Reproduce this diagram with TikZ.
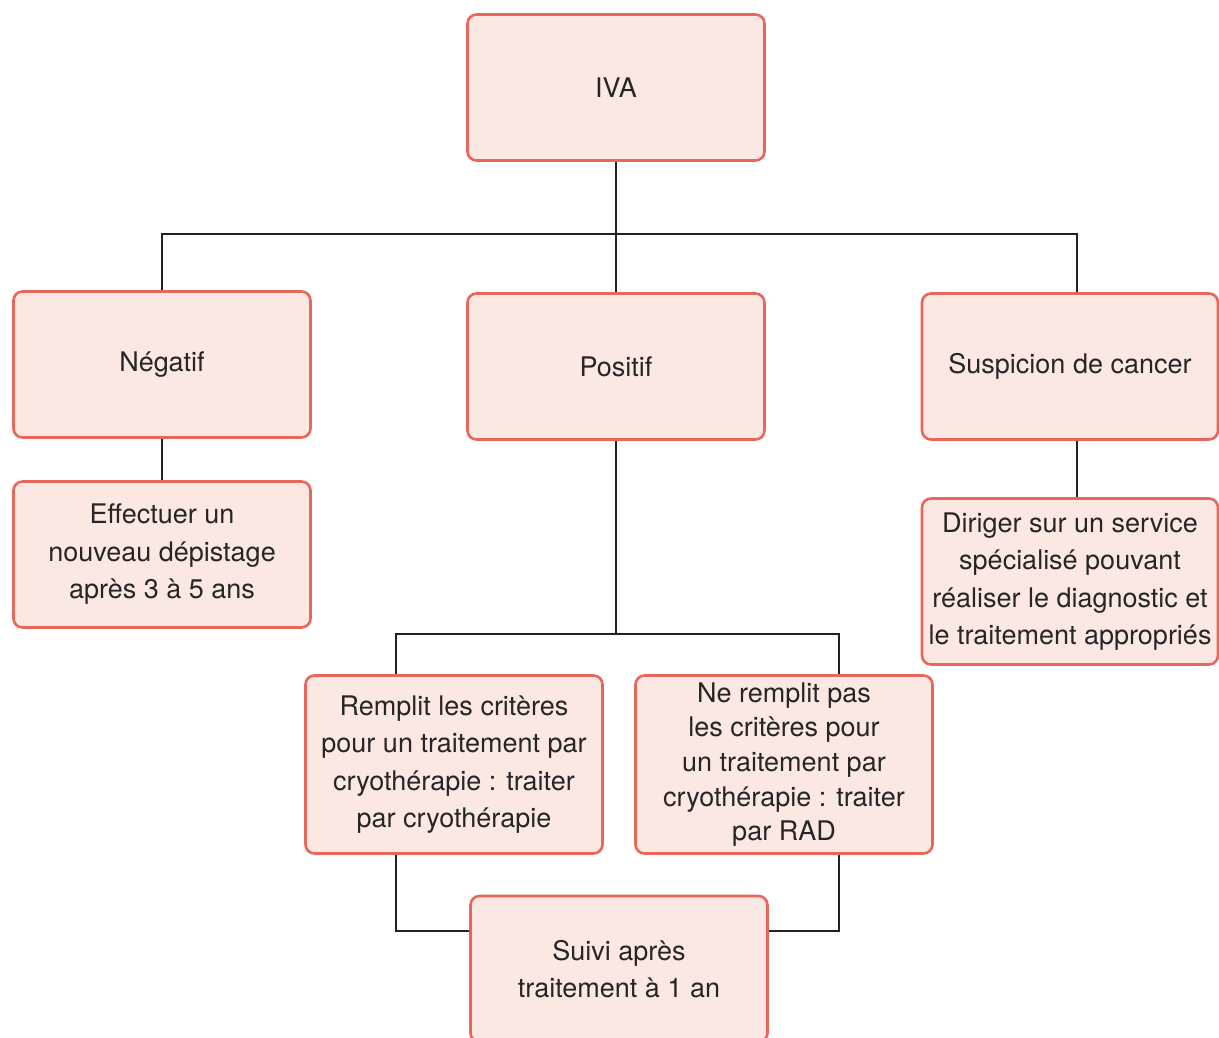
\documentclass[tikz,border=0pt]{standalone}
\usepackage{fontspec}
\setmainfont{TeX Gyre Heros}
\usepackage{xcolor}
\usepackage{tikz}

\definecolor{boxfill}{HTML}{FCE8E2}
\definecolor{boxline}{HTML}{E8665A}
\definecolor{wire}{HTML}{222222}
\definecolor{ink}{HTML}{262626}

\begin{document}
\begin{tikzpicture}[x=1pt, y=-1pt,
  box/.style={draw=boxline, fill=boxfill, line width=2.6pt, rounded corners=9pt,
    minimum width=297pt, minimum height=146pt, inner sep=0pt, align=center,
    text=ink, font=\fontsize{27}{37.5}\selectfont},
  link/.style={draw=wire, line width=2.5pt}]
  \useasboundingbox (0,0) rectangle (1219,1038);

  % boxes
  \node[box] (iva) at (616,87.5) {IVA};
  \node[box] (neg) at (162,364.5) {Négatif};
  \node[box] (pos) at (616,366.5) {Positif};
  \node[box, minimum width=296pt] (sus) at (1070,366.5) {Suspicion de cancer};
  \node[box] (eff) at (162,554.5) {Effectuer un\\nouveau dépistage\\après 3 à 5 ans};
  \node[box, minimum width=296pt, minimum height=166pt] (dir) at (1070,581.5)
    {Diriger sur un service\\spécialisé pouvant\\réaliser le diagnostic et\\le traitement appropriés};
  \node[box, minimum height=178pt] (rem) at (454,764.5)
    {Remplit les critères\\pour un traitement par\\cryothérapie : traiter\\par cryothérapie};
  \node[box, minimum height=178pt, font=\fontsize{27}{34.7}\selectfont] (nerem) at (784,764.5)
    {Ne remplit pas\\les critères pour\\un traitement par\\cryothérapie : traiter\\par RAD};
  \node[box] (suivi) at (619,969) {Suivi après\\traitement à 1 an};

  % connectors
  \coordinate (bus) at (616,234);
  \coordinate (split) at (616,634);
  \draw[link] (iva.south) -- (pos.north);
  \draw[link] (neg.north) |- (bus) -| ([xshift=7pt]sus.north);
  \draw[link] (neg.south) -- (eff.north);
  \draw[link] ([xshift=7pt]sus.south) -- ([xshift=7pt]dir.north);
  \draw[link] (pos.south) -- (split);
  \draw[link] ([xshift=-58pt]rem.north) |- (split) -| ([xshift=55pt]nerem.north);
  \draw[link] ([xshift=-58pt]rem.south) |- ([yshift=38pt]suivi.west);
  \draw[link] ([xshift=55pt]nerem.south) |- ([yshift=38pt]suivi.east);
\end{tikzpicture}
\end{document}
